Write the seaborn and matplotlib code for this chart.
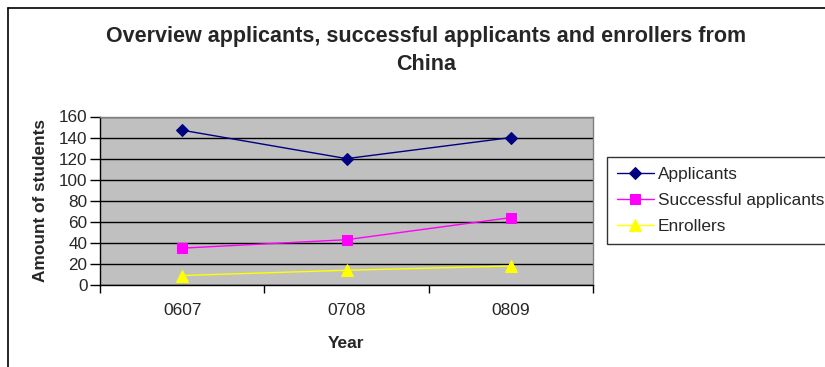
import matplotlib
matplotlib.use("Agg")
import matplotlib.pyplot as plt
from matplotlib.lines import Line2D
from matplotlib.ticker import FixedLocator, NullFormatter
import seaborn as sns
import pandas as pd

# Data
years = ["0607", "0708", "0809"]
applicants = [147, 120, 140]
successful = [35, 43, 64]
enrollers = [9, 14, 18]

series_names = ["Applicants", "Successful applicants", "Enrollers"]
series_values = [applicants, successful, enrollers]
colors = ["#000080", "#FF00FF", "#FFFF00"]
markers = ["D", "s", "^"]
marker_sizes = [6, 7, 8]

sns.set_theme(style="white")
plt.rcParams["font.family"] = ["Liberation Sans", "DejaVu Sans"]

fig = plt.figure(figsize=(8.25, 3.67), dpi=100)
ax = fig.add_axes([100 / 825, 82 / 367, 493 / 825, 168.5 / 367])
ax.set_facecolor("#C0C0C0")

rows = []
for name, vals in zip(series_names, series_values):
    for y, v in zip(years, vals):
        rows.append({"Year": y, "Students": v, "Series": name})
df = pd.DataFrame(rows)

for name, c, m, ms in zip(series_names, colors, markers, marker_sizes):
    sub = df[df["Series"] == name]
    sns.lineplot(data=sub, x="Year", y="Students", ax=ax, color=c,
                 marker=m, markersize=ms, markeredgecolor=c,
                 linewidth=1.0, label=name, sort=False, zorder=3)

ax.set_xlim(-0.5, 2.5)
ax.set_ylim(0, 160)
ax.set_yticks(range(0, 161, 20))
ax.yaxis.grid(True, color="black", linewidth=1.0)
ax.xaxis.grid(False)
ax.set_axisbelow(True)

# Category boundaries carry the tick marks, labels sit between them
ax.xaxis.set_major_locator(FixedLocator([-0.5, 0.5, 1.5, 2.5]))
ax.xaxis.set_major_formatter(NullFormatter())
ax.xaxis.set_minor_locator(FixedLocator([0, 1, 2]))
ax.set_xticklabels(years, minor=True)
ax.tick_params(axis="x", which="major", direction="out", length=6,
               width=1, color="black", bottom=True)
ax.tick_params(axis="x", which="minor", length=0, labelsize=12.5, pad=13)
ax.tick_params(axis="y", direction="out", length=7, width=1,
               color="black", left=True, labelsize=12.3, pad=2)

for side in ("left", "bottom"):
    ax.spines[side].set_color("black")
    ax.spines[side].set_linewidth(1.0)
for side in ("top", "right"):
    ax.spines[side].set_color("#808080")
    ax.spines[side].set_linewidth(1.0)

ax.set_xlabel("Year", fontsize=12.5, fontweight="bold", labelpad=13)
ax.set_ylabel("Amount of students", fontsize=12.4, fontweight="bold", labelpad=8)

fig.text(426 / 825, 1 - 50.5 / 367,
         "Overview applicants, successful applicants and enrollers from\nChina",
         ha="center", va="center", fontsize=15.5, fontweight="bold",
         linespacing=1.45)

leg = ax.legend(loc="upper left", bbox_to_anchor=(607 / 825, 1 - 157 / 367),
                bbox_transform=fig.transFigure, frameon=True, fancybox=False,
                fontsize=12.4, borderpad=0.6, labelspacing=0.62,
                handlelength=2.1, handletextpad=0.25, borderaxespad=0)
leg.get_frame().set_edgecolor("black")
leg.get_frame().set_linewidth(1.0)

# Outer chart frame
fig.add_artist(Line2D([8 / 825, 8 / 825], [0, 1 - 8 / 367],
                      transform=fig.transFigure, color="black", linewidth=1.2))
fig.add_artist(Line2D([8 / 825, 1], [1 - 8 / 367, 1 - 8 / 367],
                      transform=fig.transFigure, color="black", linewidth=1.2))

fig.savefig("out.png", dpi=100)
